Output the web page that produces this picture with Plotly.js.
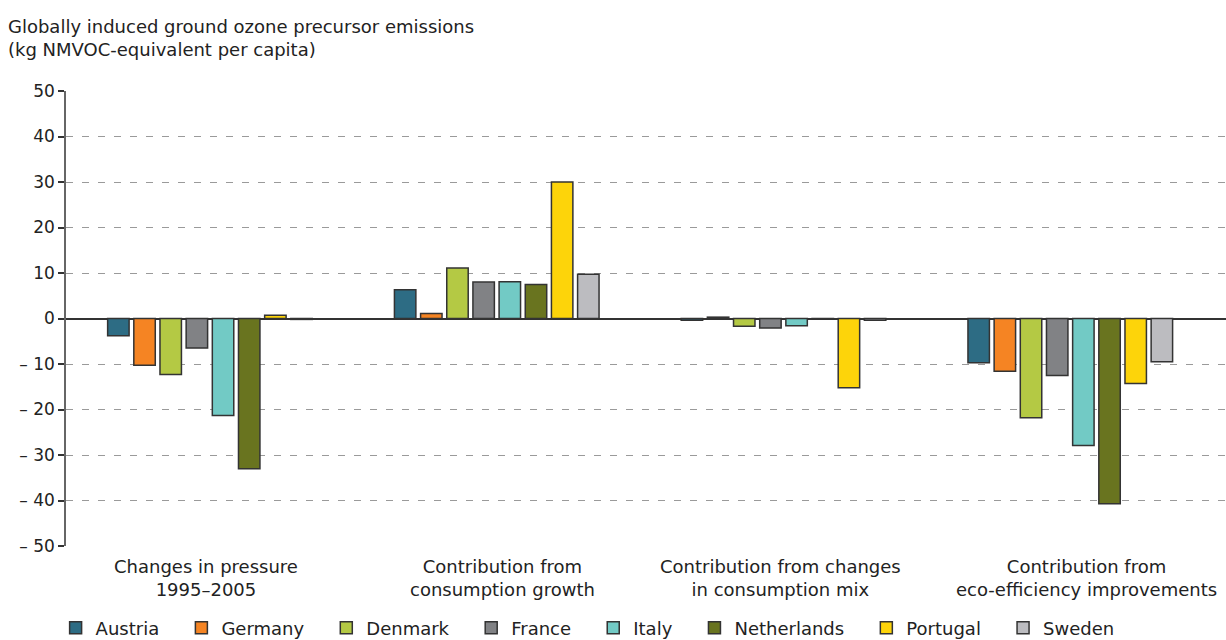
<!DOCTYPE html>
<html>
<head>
<meta charset="utf-8">
<script src="https://cdn.plot.ly/plotly-3.0.1.min.js"></script>
<style>html,body{margin:0;padding:0;background:#fff;}#chart{width:1226px;height:640px;}</style>
</head>
<body>
<div id="chart"></div>
<script>
const categories = ["Changes in pressure<br>1995–2005", "Contribution from<br>consumption growth", "Contribution from changes<br>in consumption mix", "Contribution from<br>eco-efficiency improvements"];
const countries = ["Austria", "Germany", "Denmark", "France", "Italy", "Netherlands", "Portugal", "Sweden"];
const austria     = [-3.8, 6.3, -0.4, -9.7];
const germany     = [-10.3, 1.1, 0.3, -11.6];
const denmark     = [-12.3, 11.1, -1.7, -21.8];
const france      = [-6.5, 8.0, -2.1, -12.5];
const italy       = [-21.3, 8.1, -1.6, -27.9];
const netherlands = [-33.0, 7.5, -0.1, -40.7];
const portugal    = [0.7, 30.0, -15.2, -14.3];
const sweden      = [-0.2, 9.7, -0.4, -9.5];
const yTickVals = [50, 40, 30, 20, 10, 0, -10, -20, -30, -40, -50];
const yTickText = ["50", "40", "30", "20", "10", "0", "– 10", "– 20", "– 30", "– 40", "– 50"];

const seriesValues = [austria, germany, denmark, france, italy, netherlands, portugal, sweden];
const colors = ["#2d6c84", "#f58423", "#b4c944", "#818285", "#72cac5", "#69741f", "#fdd40a", "#bcbcc0"];

const xIdx = categories.map((c, i) => i);
const traces = countries.map((name, i) => ({
  type: "bar",
  name: name + "\u00a0\u00a0\u00a0",
  x: xIdx,
  y: seriesValues[i],
  marker: {color: colors[i], line: {color: "#333333", width: 1.5}},
  hoverinfo: "name+y"
}));

const font = "DejaVu Sans, Verdana, sans-serif";
const txt = "#222222";
const labelShift = [-4, 6, -3, 16];
const annotations = categories.map((c, i) => ({
  text: c, x: i, xref: "x", y: 0, yref: "paper",
  yanchor: "top", xanchor: "center", xshift: labelShift[i], yshift: -8,
  showarrow: false, align: "center",
  font: {family: font, size: 18, color: txt}
}));

const layout = {
  width: 1226, height: 640,
  margin: {l: 66, r: 0, t: 91, b: 94},
  paper_bgcolor: "#ffffff", plot_bgcolor: "#ffffff",
  font: {family: font, size: 18, color: txt},
  barmode: "group",
  bargap: 0.27,
  bargroupgap: 0.18,
  showlegend: true,
  annotations: annotations,
  title: {
    text: "Globally induced ground ozone precursor emissions<br>(kg NMVOC-equivalent per capita)",
    x: 0.0065, xanchor: "left", xref: "container",
    y: 0.949, yanchor: "top", yref: "container",
    font: {family: font, size: 18, color: txt}
  },
  xaxis: {
    range: [-0.502, 3.543],
    tickmode: "array",
    tickvals: xIdx,
    showticklabels: false,
    showgrid: false, zeroline: false, showline: false,
    ticks: ""
  },
  yaxis: {
    range: [-50, 50],
    tickmode: "array",
    tickvals: yTickVals,
    ticktext: yTickText,
    showgrid: true, gridcolor: "#9a9a9a", gridwidth: 1, griddash: "7px,9px",
    zeroline: true, zerolinecolor: "#333333", zerolinewidth: 1.5,
    showline: true, linecolor: "#666666", linewidth: 1.5,
    ticks: "outside", ticklen: 6, tickcolor: "#333333", tickwidth: 1.5,
    tickfont: {family: font, size: 17, color: txt}
  },
  legend: {
    orientation: "h",
    x: 0.457, xanchor: "center", xref: "paper",
    y: 0.0185, yanchor: "middle", yref: "container",
    font: {family: font, size: 18, color: txt},
    traceorder: "normal"
  }
};

Plotly.newPlot("chart", traces, layout, {displayModeBar: false});
</script>
</body>
</html>
